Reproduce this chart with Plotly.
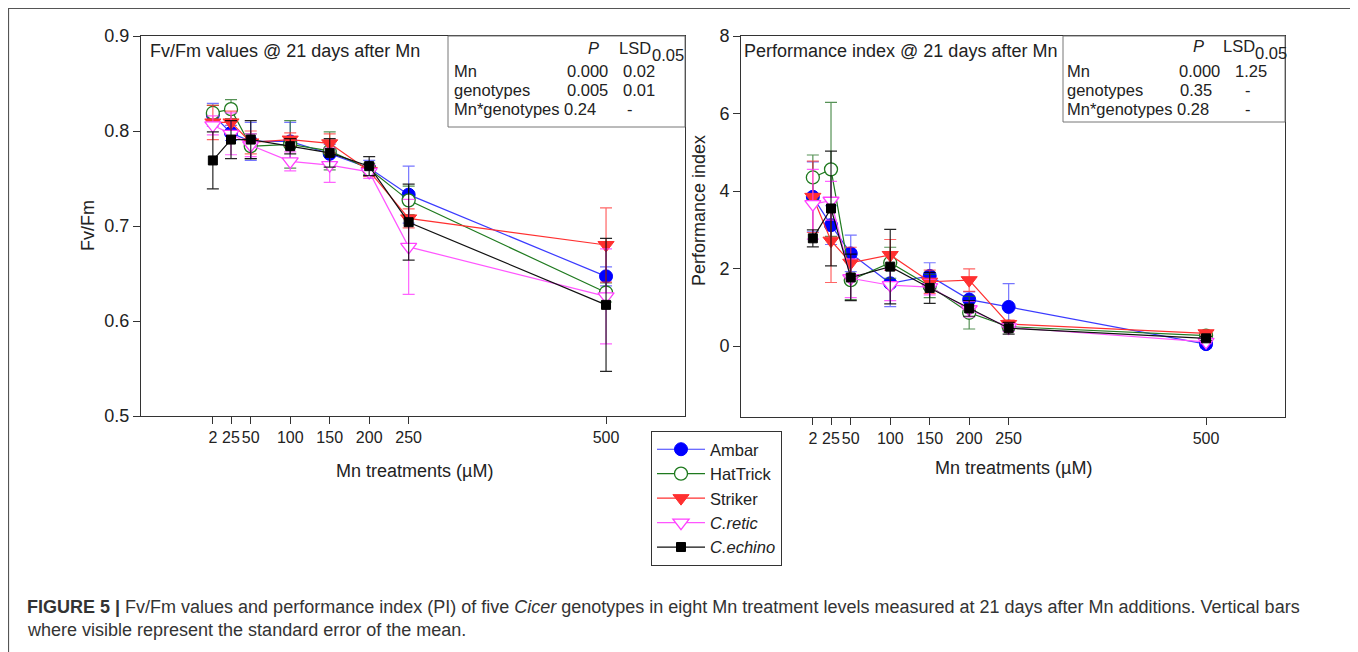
import plotly.graph_objects as go

# page offset caused by the default body margin of the html page
OFF = 8
W, H = 1358 - OFF, 652 - OFF

mn = [2, 25, 50, 100, 150, 200, 250, 500]
mn_labels = ["2", "25", "50", "100", "150", "200", "250", "500"]
names = ["Ambar", "HatTrick", "Striker", "<i>C.retic</i>", "<i>C.echino</i>"]

fv_ambar = [0.817, 0.798, 0.789, 0.789, 0.776, 0.761, 0.733, 0.647]
fv_ambar_se = [0.012, 0.008, 0.020, 0.020, 0.010, 0.008, 0.030, 0.010]
fv_hat = [0.819, 0.823, 0.784, 0.786, 0.779, 0.760, 0.727, 0.630]
fv_hat_se = [0.008, 0.010, 0.013, 0.025, 0.020, 0.006, 0.015, 0.010]
fv_str = [0.809, 0.809, 0.788, 0.791, 0.787, 0.758, 0.708, 0.680]
fv_str_se = [0.018, 0.012, 0.012, 0.007, 0.010, 0.006, 0.010, 0.039]
fv_ret = [0.806, 0.797, 0.785, 0.768, 0.764, 0.757, 0.678, 0.626]
fv_ret_se = [0.010, 0.022, 0.012, 0.010, 0.018, 0.007, 0.050, 0.050]
fv_ech = [0.769, 0.791, 0.791, 0.784, 0.777, 0.763, 0.704, 0.617]
fv_ech_se = [0.030, 0.020, 0.020, 0.008, 0.015, 0.010, 0.040, 0.070]

pi_ambar = [3.85, 3.12, 2.39, 1.62, 1.81, 1.20, 1.01, 0.05]
pi_ambar_se = [0.90, 0.50, 0.47, 0.60, 0.34, 0.20, 0.60, 0.10]
pi_hat = [4.35, 4.56, 1.70, 2.15, 1.55, 0.86, 0.50, 0.27]
pi_hat_se = [0.58, 1.73, 0.50, 0.40, 0.30, 0.42, 0.10, 0.05]
pi_str = [3.85, 2.72, 2.15, 2.35, 1.66, 1.70, 0.57, 0.33]
pi_str_se = [0.92, 1.08, 0.40, 0.40, 0.30, 0.29, 0.10, 0.05]
pi_ret = [3.66, 3.75, 1.75, 1.57, 1.52, 0.95, 0.48, 0.11]
pi_ret_se = [0.90, 0.50, 0.50, 0.40, 0.20, 0.20, 0.10, 0.05]
pi_ech = [2.78, 3.55, 1.77, 2.05, 1.50, 0.97, 0.46, 0.20]
pi_ech_se = [0.22, 1.48, 0.60, 0.96, 0.40, 0.20, 0.15, 0.05]

fv_series = [(fv_ambar, fv_ambar_se), (fv_hat, fv_hat_se), (fv_str, fv_str_se),
             (fv_ret, fv_ret_se), (fv_ech, fv_ech_se)]
pi_series = [(pi_ambar, pi_ambar_se), (pi_hat, pi_hat_se), (pi_str, pi_str_se),
             (pi_ret, pi_ret_se), (pi_ech, pi_ech_se)]

line_cols = ["#3b3bff", "#1f7a1f", "#ff3030", "#ff55ff", "#111111"]
err_cols = ["rgba(60,60,255,0.7)", "rgba(30,110,30,0.75)", "rgba(255,50,50,0.75)",
            "rgba(255,60,255,0.8)", "rgba(0,0,0,0.85)"]
styles = [
    dict(symbol="circle", size=13, color="#0000ff", line=dict(color="#0000ff", width=1)),
    dict(symbol="circle", size=13, color="white", line=dict(color="#1f7a1f", width=1.3)),
    dict(symbol="triangle-down", size=14, color="#ff3030", line=dict(color="#ff3030", width=1)),
    dict(symbol="triangle-down", size=14, color="white", line=dict(color="#ff40ff", width=1.3)),
    dict(symbol="square", size=9, color="#000000", line=dict(color="#000000", width=1)),
]

FONT = "Liberation Sans, Arial, sans-serif"


def px(x):
    return (x - OFF) / W


def py(y):
    return 1 - (y - OFF) / H


fig = go.Figure()

for panel, series in ((1, fv_series), (2, pi_series)):
    for i, (vals, se) in enumerate(series):
        fig.add_trace(go.Scatter(
            x=mn, y=vals, name=names[i], mode="lines+markers",
            xaxis="x" if panel == 1 else "x2", yaxis="y" if panel == 1 else "y2",
            line=dict(color=line_cols[i], width=1.2),
            marker=styles[i],
            error_y=dict(type="data", array=se, visible=True, color=err_cols[i],
                         thickness=1.2, width=6),
            showlegend=(panel == 1),
        ))

axis_common = dict(showgrid=False, zeroline=False, showline=True, mirror=True,
                   linecolor="#333333", linewidth=1, ticks="outside", ticklen=7,
                   tickcolor="#333333", automargin=False, tickangle=0)
ytick_font = dict(family=FONT, size=18, color="#222")
xtick_font = dict(family=FONT, size=16, color="#222")

fig.update_layout(
    width=W, height=H, margin=dict(l=0, r=0, t=0, b=0, pad=0, autoexpand=False),
    paper_bgcolor="white", plot_bgcolor="white",
    font=dict(family=FONT, color="#222"),
    xaxis=dict(domain=[px(141), px(685)], range=[-89, 600], tickvals=mn, ticktext=mn_labels,
               anchor="y", tickfont=xtick_font, **axis_common),
    yaxis=dict(domain=[py(416), py(36)], range=[0.5, 0.9], tickvals=[0.5, 0.6, 0.7, 0.8, 0.9],
               ticktext=["0.5", "0.6", "0.7", "0.8", "0.9"], anchor="x", tickfont=ytick_font,
               **axis_common),
    xaxis2=dict(domain=[px(741), px(1285)], range=[-89, 600], tickvals=mn, ticktext=mn_labels,
                anchor="y2", tickfont=xtick_font, **axis_common),
    yaxis2=dict(domain=[py(417), py(36)], range=[-1.83, 8], tickvals=[0, 2, 4, 6, 8],
                ticktext=["0", "2", "4", "6", "8"], anchor="x2", tickfont=ytick_font,
                **axis_common),
    legend=dict(x=px(651), y=py(431), xanchor="left", yanchor="top",
                bordercolor="#333333", borderwidth=1, bgcolor="white",
                font=dict(family=FONT, size=16.5, color="#222"), itemwidth=48,
                tracegroupgap=0),
)

shapes = [
    dict(type="rect", xref="paper", yref="paper", x0=px(8.5), x1=px(1354), y0=py(700), y1=py(8.5),
         line=dict(color="#555555", width=1.2)),
    dict(type="rect", xref="paper", yref="paper", x0=px(448), x1=px(685), y0=py(127), y1=py(36),
         line=dict(color="#777777", width=1), fillcolor="white", layer="above"),
    dict(type="rect", xref="paper", yref="paper", x0=px(1063), x1=px(1285), y0=py(122), y1=py(36),
         line=dict(color="#777777", width=1), fillcolor="white", layer="above"),
]
fig.update_layout(shapes=shapes)

ann = []


def text(x, y, s, size=16, xanchor="left", angle=0, color="#222", family=FONT):
    ann.append(dict(x=px(x), y=py(y), xref="paper", yref="paper", text=s, showarrow=False,
                    xanchor=xanchor, yanchor="middle", textangle=angle,
                    font=dict(family=family, size=size, color=color)))


# panel titles
text(148, 51, "Fv/Fm values @ 21 days after Mn", size=18)
text(742, 51, "Performance index @ 21 days after Mn", size=18)
# axis titles
text(414, 471, "Mn treatments (µM)", size=18, xanchor="center")
text(1013, 468, "Mn treatments (µM)", size=18, xanchor="center")
text(88, 226, "Fv/Fm", size=18, xanchor="center", angle=-90)
text(699, 211, "Performance index", size=18, xanchor="center", angle=-90)

S = 16.5
# stats box left
text(586, 48, "<i>P</i>", size=S)
text(617, 48, "LSD", size=S)
text(650, 55, "0.05", size=S)
text(452, 71, "Mn", size=S)
text(565, 71, "0.000", size=S)
text(621, 71, "0.02", size=S)
text(452, 90, "genotypes", size=S)
text(565, 90, "0.005", size=S)
text(621, 90, "0.01", size=S)
text(452, 109, "Mn*genotypes 0.24", size=S)
text(625, 109, "-", size=S)

# stats box right
text(1191, 46, "<i>P</i>", size=S)
text(1221, 46, "LSD", size=S)
text(1253, 53, "0.05", size=S)
text(1065, 71, "Mn", size=S)
text(1177, 71, "0.000", size=S)
text(1233, 71, "1.25", size=S)
text(1065, 90, "genotypes", size=S)
text(1178, 90, "0.35", size=S)
text(1243, 90, "-", size=S)
text(1065, 109, "Mn*genotypes 0.28", size=S)
text(1243, 109, "-", size=S)

# caption
text(25, 607, "<b>FIGURE 5 |</b> Fv/Fm values and performance index (PI) of five <i>Cicer</i> genotypes "
              "in eight Mn treatment levels measured at 21 days after Mn additions. Vertical bars",
     size=18, color="#333")
text(25, 630, "where visible represent the standard error of the mean.", size=18, color="#333")

fig.update_layout(annotations=ann)
fig.write_html("out.html")
